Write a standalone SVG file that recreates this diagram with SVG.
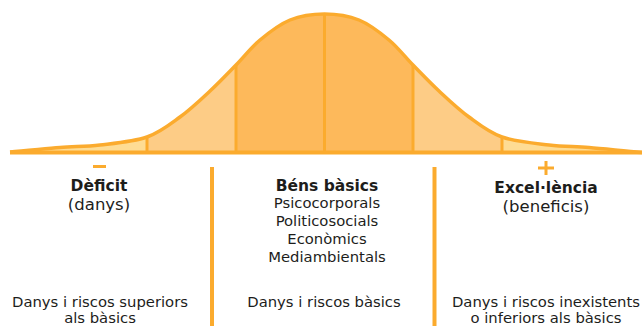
<svg xmlns="http://www.w3.org/2000/svg" width="642" height="326" viewBox="0 0 642 326">
<style>
.t{font-family:"DejaVu Sans","Liberation Sans",sans-serif;fill:#1d1d1b;text-anchor:middle}
.b{font-weight:bold;font-size:15.5px}
.r{font-size:16.5px}
.s{font-size:14.8px}
.o{stroke:#fbab2e;fill:none}
</style>
<defs>
<clipPath id="bell">
<path d="M10,152 C25,151 45,148.67 60,147.5 C75,146.33 85.5,146.75 100,145 C114.5,143.25 133.7,141.67 147,137 C160.3,132.33 169.5,124.67 180,117 C190.5,109.33 200.67,99.67 210,91 C219.33,82.33 227.67,73.5 236,65 C244.33,56.5 251,47.5 260,40 C269,32.5 279.25,24.33 290,20 C300.75,15.67 313,14 324.5,14 C336,14 348.25,15.67 359,20 C369.75,24.33 380,32.5 389,40 C398,47.5 404.67,56.5 413,65 C421.33,73.5 429.67,82.33 439,91 C448.33,99.67 458.5,109.33 469,117 C479.5,124.67 488.7,132.33 502,137 C515.3,141.67 534.5,143.25 549,145 C563.5,146.75 574,146.33 589,147.5 C604,148.67 624,151 642,152.5 Z"/>
</clipPath>
</defs>
<g id="curve">
<g clip-path="url(#bell)">
<rect x="0" y="0" width="642" height="153" fill="#fedc94"/>
<rect x="147" y="0" width="355" height="153" fill="#fdcc86"/>
<rect x="236" y="0" width="177" height="153" fill="#fdb95b"/>
<g class="o" stroke-width="3">
<line x1="147" y1="0" x2="147" y2="153"/>
<line x1="236" y1="0" x2="236" y2="153"/>
<line x1="324.5" y1="0" x2="324.5" y2="153"/>
<line x1="413" y1="0" x2="413" y2="153"/>
<line x1="502" y1="0" x2="502" y2="153"/>
</g>
</g>
<path class="o" stroke-width="3.5" stroke-linejoin="round" d="M10,152 C25,151 45,148.67 60,147.5 C75,146.33 85.5,146.75 100,145 C114.5,143.25 133.7,141.67 147,137 C160.3,132.33 169.5,124.67 180,117 C190.5,109.33 200.67,99.67 210,91 C219.33,82.33 227.67,73.5 236,65 C244.33,56.5 251,47.5 260,40 C269,32.5 279.25,24.33 290,20 C300.75,15.67 313,14 324.5,14 C336,14 348.25,15.67 359,20 C369.75,24.33 380,32.5 389,40 C398,47.5 404.67,56.5 413,65 C421.33,73.5 429.67,82.33 439,91 C448.33,99.67 458.5,109.33 469,117 C479.5,124.67 488.7,132.33 502,137 C515.3,141.67 534.5,143.25 549,145 C563.5,146.75 574,146.33 589,147.5 C604,148.67 624,151 642,152.5"/>
<line class="o" x1="10" y1="152.5" x2="642" y2="152.5" stroke-width="4"/>
</g>
<g id="dividers" class="o" stroke-width="4">
<line x1="212" y1="167" x2="212" y2="326"/>
<line x1="434.5" y1="167" x2="434.5" y2="326"/>
</g>
<g id="deficit">
<rect x="93" y="165" width="13" height="3" fill="#fbab2e"/>
<text class="t b" x="99" y="191">Dèficit</text>
<text class="t r" x="99" y="210">(danys)</text>
<text class="t s" x="100" y="307">Danys i riscos superiors</text>
<text class="t s" x="100" y="323">als bàsics</text>
</g>
<g id="bens">
<text class="t b" x="327" y="191">Béns bàsics</text>
<text class="t s" x="327" y="208">Psicocorporals</text>
<text class="t s" x="327" y="226">Politicosocials</text>
<text class="t s" x="327" y="244">Econòmics</text>
<text class="t s" x="327" y="262">Mediambientals</text>
<text class="t s" x="324" y="307">Danys i riscos bàsics</text>
</g>
<g id="excellencia">
<path class="o" stroke-width="3" d="M538,168 H554 M546,161 V175"/>
<text class="t b" x="546" y="193">Excel·lència</text>
<text class="t r" x="546" y="212">(beneficis)</text>
<text class="t s" x="546" y="307">Danys i riscos inexistents</text>
<text class="t s" x="546" y="323">o inferiors als bàsics</text>
</g>
</svg>
